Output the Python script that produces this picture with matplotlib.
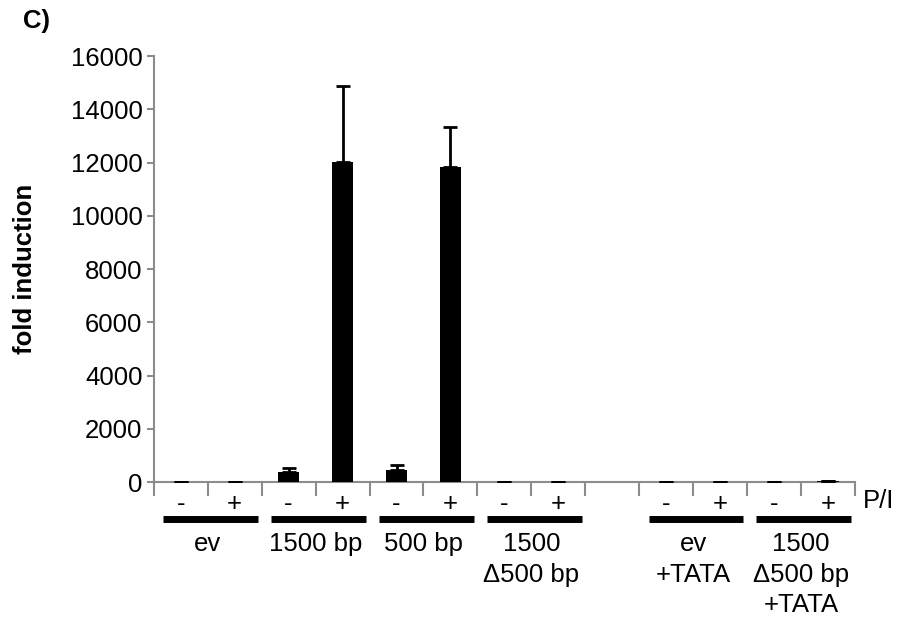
import matplotlib.pyplot as plt
from matplotlib.transforms import blended_transform_factory

plt.rcParams['font.family'] = ['Liberation Sans', 'DejaVu Sans']

# slot index of each bar (slot 8 is the empty gap)
slots = [0, 1, 2, 3, 4, 5, 6, 7, 9, 10, 11, 12]
signs = ['-', '+', '-', '+', '-', '+', '-', '+', '-', '+', '-', '+']
values = [8, 12, 375, 12040, 450, 11820, 10, 15, 10, 20, 12, 40]
errors = [0, 0, 150, 2820, 190, 1500, 0, 0, 0, 0, 0, 0]

group_labels = ['ev', '1500 bp', '500 bp', '1500\n\u0394500 bp', 'ev\n+TATA', '1500\n\u0394500 bp\n+TATA']
group_start = [0, 2, 4, 6, 9, 11]
n_slots = 13
fs = 18.5

fig = plt.figure(figsize=(9.04, 6.23), dpi=100)
ax = fig.add_axes([0.170, 0.226, 0.776, 0.684])

x = [s + 0.5 for s in slots]
ax.bar(x, values, width=0.4, color='black', zorder=3)
ax.errorbar(x, values, yerr=[[0] * len(errors), errors], fmt='none', ecolor='black',
            elinewidth=2, capsize=5, capthick=2, zorder=4)

ax.set_xlim(0, n_slots)
ax.set_ylim(0, 16000)
ax.set_yticks(range(0, 16001, 2000))
ax.tick_params(axis='y', labelsize=fs, length=5, width=1.5, color='#8c8c8c', pad=3)

ax.set_xticks(range(n_slots + 1))
ax.set_xticklabels([])
ax.tick_params(axis='x', which='major', length=10, width=1.5, color='#8c8c8c')
ax.set_xticks(x, minor=True)
ax.set_xticklabels(signs, minor=True, fontsize=fs)
ax.tick_params(axis='x', which='minor', length=0, pad=7)

for side in ['top', 'right']:
    ax.spines[side].set_visible(False)
for side in ['left', 'bottom']:
    ax.spines[side].set_color('#8c8c8c')
    ax.spines[side].set_linewidth(1.5)

ax.set_ylabel('fold induction', fontsize=fs, fontweight='bold', labelpad=24)

tr = blended_transform_factory(ax.transData, ax.transAxes)
for lab, s in zip(group_labels, group_start):
    ax.plot([s + 0.17, s + 1.93], [-0.0855, -0.0855], color='black', lw=5,
            transform=tr, clip_on=False, solid_capstyle='butt')
    ax.text(s + 1.0, -0.118, lab, transform=tr, ha='center', va='top',
            fontsize=fs, linespacing=1.32)

ax.text(n_slots + 0.15, -0.045, 'P/I', transform=tr, ha='left', va='center', fontsize=fs)
fig.text(0.025, 0.966, 'C)', fontsize=fs, fontweight='bold', ha='left', va='center')

fig.savefig('out.png', dpi=100)
